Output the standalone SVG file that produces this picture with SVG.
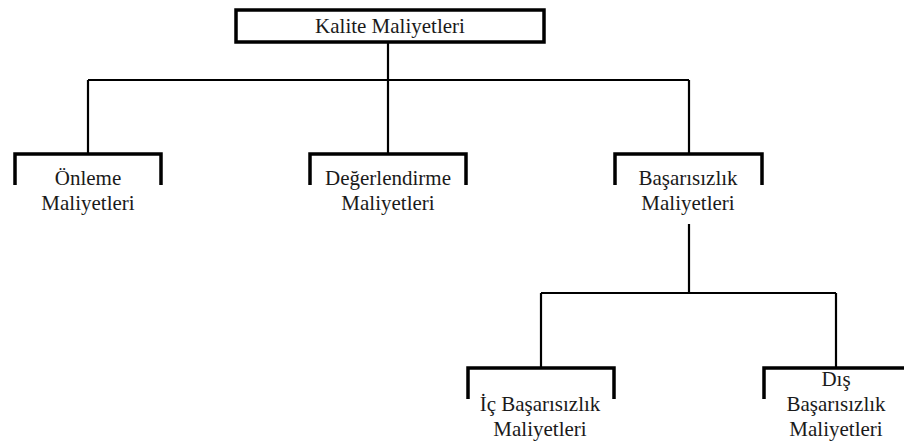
<svg xmlns="http://www.w3.org/2000/svg" width="904" height="448" viewBox="0 0 904 448">
<style>
text{font-family:'Liberation Serif','Times New Roman',serif;font-size:21px;fill:#1a1a1a;text-anchor:middle}
.br{fill:none;stroke:#000;stroke-width:3.5;stroke-linecap:butt}
.ln{fill:none;stroke:#000;stroke-width:2.2}
</style>
<rect width="904" height="448" fill="#fff"/>
<g id="connectors">
<path class="ln" d="M388 42 V80 M88 80 H689 M88 80 V153 M388 80 V153 M689 80 V153"/>
<path class="ln" d="M689 224 V293 M541 293 H836 M541 293 V367 M836 293 V367"/>
</g>
<g id="kalite">
<rect x="236" y="10" width="308" height="32" fill="none" stroke="#000" stroke-width="3.5"/>
<text x="390" y="33">Kalite Maliyetleri</text>
</g>
<g id="onleme">
<path class="br" d="M15 185 V154 H161 V185"/>
<text x="88" y="185">Önleme</text>
<text x="88" y="210">Maliyetleri</text>
</g>
<g id="degerlendirme">
<path class="br" d="M310 185 V154 H466 V185"/>
<text x="388" y="185">Değerlendirme</text>
<text x="388" y="210">Maliyetleri</text>
</g>
<g id="basarisizlik">
<path class="br" d="M615 185 V154 H762 V185"/>
<text x="688" y="185">Başarısızlık</text>
<text x="688" y="210">Maliyetleri</text>
</g>
<g id="ic">
<path class="br" d="M468 399 V368 H614 V399"/>
<text x="540" y="411">İç Başarısızlık</text>
<text x="540" y="436">Maliyetleri</text>
</g>
<g id="dis">
<path class="br" d="M764 399 V368 H910"/>
<text x="836" y="386">Dış</text>
<text x="836" y="411">Başarısızlık</text>
<text x="836" y="436">Maliyetleri</text>
</g>
</svg>
